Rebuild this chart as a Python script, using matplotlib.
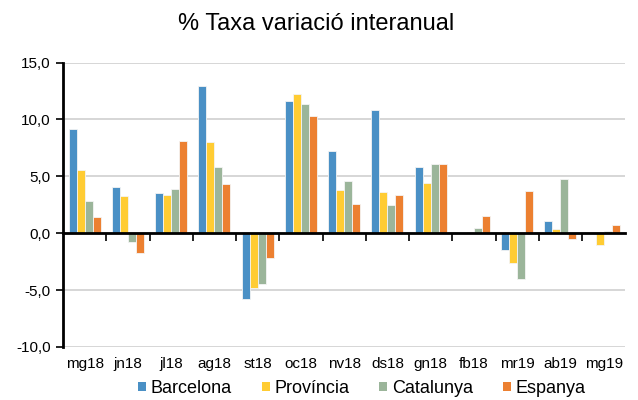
import matplotlib
matplotlib.use("Agg")
import matplotlib.pyplot as plt
from matplotlib.patches import Patch
from matplotlib.transforms import blended_transform_factory
import numpy as np

plt.rcParams['font.family'] = ['Liberation Sans', 'DejaVu Sans']

categories = ["mg18", "jn18", "jl18", "ag18", "st18", "oc18", "nv18",
              "ds18", "gn18", "fb18", "mr19", "ab19", "mg19"]
series_names = ["Barcelona", "Província", "Catalunya", "Espanya"]
barcelona = [9.2, 4.1, 3.5, 12.9, -5.8, 11.6, 7.2, 10.8, 5.8, 0.1, -1.5, 1.1, 0.0]
provincia = [5.6, 3.3, 3.4, 8.0, -4.8, 12.2, 3.8, 3.6, 4.4, 0.0, -2.6, 0.4, -1.0]
catalunya = [2.8, -0.8, 3.9, 5.8, -4.5, 11.4, 4.6, 2.5, 6.1, 0.5, -4.0, 4.8, 0.2]
espanya = [1.4, -1.7, 8.1, 4.3, -2.2, 10.3, 2.6, 3.4, 6.1, 1.5, 3.7, -0.5, 0.7]
yticks = [-10, -5, 0, 5, 10, 15]
colors = ["#4A90C5", "#FFCC33", "#9BB59A", "#EC8031"]

fig = plt.figure(figsize=(6.38, 4.0), dpi=100)
ax = fig.add_axes([0.099, 0.1325, 0.881, 0.711])

x = np.arange(len(categories))
bw = 0.185
for i, (vals, c) in enumerate(zip([barcelona, provincia, catalunya, espanya], colors)):
    ax.bar(x + (i - 1.5) * bw, vals, width=bw, color=c, edgecolor="#F4F4F4",
           linewidth=0.6, zorder=3)

ax.set_xlim(-0.5, len(categories) - 0.5)
ax.set_ylim(-10, 15)
ax.set_yticks(yticks)
ax.set_yticklabels([f"{v:.1f}".replace(".", ",") for v in yticks], fontsize=11)
ax.yaxis.grid(True, color="#D0D0D0", linewidth=1.2, zorder=0)
ax.tick_params(axis="y", length=5, width=1.2, direction="out", pad=4)

for s in ["top", "right"]:
    ax.spines[s].set_visible(False)
ax.spines["left"].set_linewidth(2)
ax.spines["bottom"].set_position(("data", 0))
ax.spines["bottom"].set_linewidth(2)
ax.spines["bottom"].set_zorder(4)
ax.set_xticks(np.arange(0.5, len(categories) - 0.5, 1.0))
ax.set_xticklabels([])
ax.tick_params(axis="x", length=6, width=1.2, direction="out")

trans = blended_transform_factory(ax.transData, ax.transAxes)
for xi, lab in zip(x, categories):
    ax.text(xi, -0.06, lab, transform=trans, ha="center", va="center", fontsize=11)

fig.text(0.496, 0.94, "% Taxa variació interanual", ha="center", va="center", fontsize=17)

handles = [Patch(facecolor=c, edgecolor="none") for c in colors]
fig.legend(handles, series_names, loc="center", bbox_to_anchor=(0.567, 0.029), ncol=4,
           frameon=False, fontsize=13, handlelength=0.45, handleheight=0.45,
           handletextpad=0.25, columnspacing=1.65, borderpad=0)

fig.savefig("out.png", dpi=100)
